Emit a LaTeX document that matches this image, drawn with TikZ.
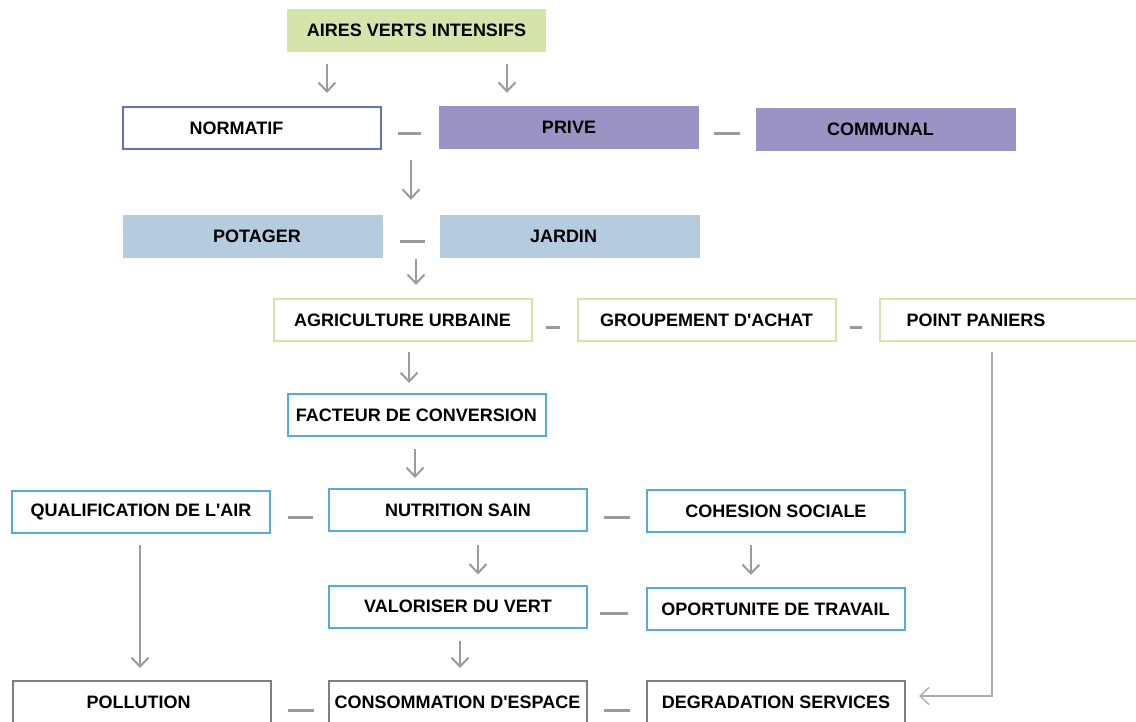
\documentclass[tikz,border=0pt]{standalone}
\usepackage{fontspec}
\setmainfont{Liberation Sans}
\usetikzlibrary{arrows.meta}
\definecolor{cgreenfill}{HTML}{D4E4AA}
\definecolor{cgreenline}{HTML}{D4E5AB}
\definecolor{cnavy}{HTML}{6670B2}
\definecolor{cpurple}{HTML}{9C93C5}
\definecolor{clblue}{HTML}{B4CBE0}
\definecolor{cblue}{HTML}{58AAD9}
\definecolor{cgrayline}{HTML}{7F7F7F}
\definecolor{carrow}{HTML}{9B9B9B}
\definecolor{carrowlight}{HTML}{ABABAB}
\begin{document}
\begin{tikzpicture}[x=1pt,y=-1pt,
  font=\fontsize{18}{20}\selectfont\bfseries,
  box/.style={rectangle, inner sep=0pt, anchor=center, text=black},
  fillbox/.style={box, draw=none, fill=#1, minimum width=260pt, minimum height=43pt},
  linebox/.style={box, draw=#1, fill=white, line width=2pt, minimum width=258pt, minimum height=42pt},
  arr/.style={draw=carrow, line width=2pt, -{Straight Barb[length=9pt,width=17pt]}},
  thinarr/.style={draw=carrowlight, line width=1.4pt, -{Straight Barb[length=9pt,width=17pt]}},
  link/.style={draw=carrow, line width=3pt}
]
\useasboundingbox (0,0) rectangle (1136,722);
\clip (0,0) rectangle (1136,722);

% nodes
\node[fillbox=cgreenfill, minimum width=259pt] (aires) at (416.5,30.5) {AIRES VERTS INTENSIFS};
\node[linebox=cnavy] (normatif) at (251.5,128) {\hspace*{-30pt}NORMATIF};
\node[fillbox=cpurple] (prive) at (569,127.5) {PRIVE};
\node[fillbox=cpurple] (communal) at (885.5,129.5) {\hspace*{-10pt}COMMUNAL};
\node[fillbox=clblue] (potager) at (253,236.5) {\hspace*{8pt}POTAGER};
\node[fillbox=clblue] (jardin) at (569.5,236.5) {\hspace*{-12pt}JARDIN};
\node[linebox=cgreenline] (agri) at (402.5,320) {AGRICULTURE URBAINE};
\node[linebox=cgreenline] (groupement) at (706.5,320) {GROUPEMENT D\textquotesingle ACHAT};
\node[linebox=cgreenline] (paniers) at (1009,320) {\hspace*{-66pt}POINT PANIERS};
\node[linebox=cblue] (facteur) at (416.5,415) {FACTEUR DE CONVERSION};
\node[linebox=cblue] (qualif) at (141,512) {QUALIFICATION DE L\textquotesingle AIR};
\node[linebox=cblue] (nutrition) at (458,510) {NUTRITION SAIN};
\node[linebox=cblue] (cohesion) at (776,511) {COHESION SOCIALE};
\node[linebox=cblue] (valoriser) at (458,606.5) {VALORISER DU VERT};
\node[linebox=cblue] (oportunite) at (775.5,609) {OPORTUNITE DE TRAVAIL};
\node[linebox=cgrayline] (pollution) at (141.5,702) {\hspace*{-6pt}POLLUTION};
\node[linebox=cgrayline] (consommation) at (457.5,702) {CONSOMMATION D\textquotesingle ESPACE};
\node[linebox=cgrayline] (degradation) at (776,702) {DEGRADATION SERVICES};

% horizontal links (short dashes)
\draw[link] ([xshift=16pt,yshift=-6pt]normatif.east) -- ([xshift=-18pt,yshift=-6.5pt]prive.west);
\draw[link] ([xshift=15pt,yshift=-6.5pt]prive.east) -- ([xshift=-15.5pt,yshift=-4.5pt]communal.west);
\draw[link] ([xshift=17pt,yshift=-5.5pt]potager.east) -- ([xshift=-14.5pt,yshift=-5.5pt]jardin.west);
\draw[link] ([xshift=13pt,yshift=-7pt]agri.east) -- ([xshift=-17pt,yshift=-7pt]groupement.west);
\draw[link] ([xshift=13pt,yshift=-7pt]groupement.east) -- ([xshift=-17pt,yshift=-7pt]paniers.west);
\draw[link] ([xshift=17pt,yshift=-5pt]qualif.east) -- ([xshift=-15pt,yshift=-7pt]nutrition.west);
\draw[link] ([xshift=16pt,yshift=-7pt]nutrition.east) -- ([xshift=-16pt,yshift=-6pt]cohesion.west);
\draw[link] ([xshift=12pt,yshift=-6.5pt]valoriser.east) -- ([xshift=-18pt,yshift=-4pt]oportunite.west);
\draw[link] ([xshift=16pt,yshift=-8pt]pollution.east) -- ([xshift=-14pt,yshift=-8pt]consommation.west);
\draw[link] ([xshift=16pt,yshift=-8pt]consommation.east) -- ([xshift=-16pt,yshift=-8pt]degradation.west);

% x positions of the vertical arrows
\coordinate (xa) at (327,0);
\coordinate (xb) at (507,0);
\coordinate (xc) at (411,0);
\coordinate (xd) at (416,0);
\coordinate (xe) at (409,0);
\coordinate (xf) at (415,0);
\coordinate (xg) at (478,0);
\coordinate (xh) at (751,0);
\coordinate (xi) at (140,0);
\coordinate (xj) at (460,0);
\coordinate (xk) at (992,0);

% vertical arrows
\draw[arr, shorten <=12pt, shorten >=13pt] (xa |- aires.south) -- (xa |- normatif.north);
\draw[arr, shorten <=12pt, shorten >=13pt] (xb |- aires.south) -- (xb |- prive.north);
\draw[arr, shorten <=11pt, shorten >=15pt] (xc |- prive.south) -- (xc |- potager.north);
\draw[arr, shorten <=1pt, shorten >=13pt] (xd |- jardin.south) -- (xd |- agri.north);
\draw[arr, shorten <=10pt, shorten >=10pt] (xe |- agri.south) -- (xe |- facteur.north);
\draw[arr, shorten <=12pt, shorten >=10pt] (xf |- facteur.south) -- (xf |- nutrition.north);
\draw[arr, shorten <=13pt, shorten >=10pt] (xg |- nutrition.south) -- (xg |- valoriser.north);
\draw[arr, shorten <=12pt, shorten >=12pt] (xh |- cohesion.south) -- (xh |- oportunite.north);
\draw[arr, shorten <=11pt, shorten >=12pt] (xi |- qualif.south) -- (xi |- pollution.north);
\draw[arr, shorten <=12pt, shorten >=12pt] (xj |- valoriser.south) -- (xj |- consommation.north);

% elbow connector
\draw[thinarr, shorten <=10pt, shorten >=13pt] (xk |- paniers.south) |- ([yshift=6pt]degradation.east);
\end{tikzpicture}
\end{document}
